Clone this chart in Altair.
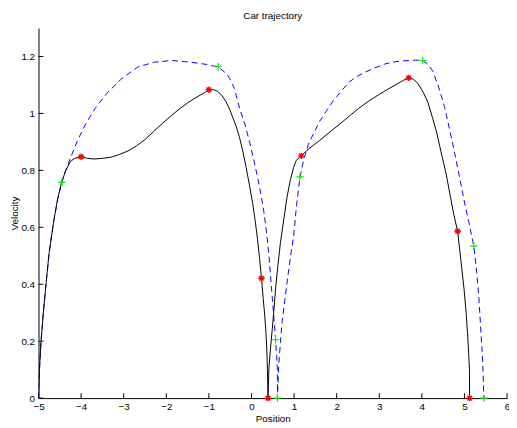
import altair as alt
import pandas as pd

# ---- data ----
black_x = [-5.0, -4.98, -4.94, -4.885, -4.82, -4.75, -4.65, -4.55, -4.46, -4.36, -4.245, -4.15, -4.0,
           -3.85, -3.7, -3.5, -3.3, -3.1, -2.9, -2.7, -2.5, -2.3, -2.1, -1.9, -1.7, -1.5, -1.3, -1.1,
           -1.0, -0.9, -0.8, -0.7, -0.6, -0.5, -0.435, -0.36, -0.28, -0.2, -0.127, -0.05, 0.028, 0.09,
           0.143, 0.19, 0.235, 0.275, 0.31, 0.34, 0.358, 0.375, 0.383, 0.388,
           0.41, 0.45, 0.49, 0.53, 0.566, 0.62, 0.68, 0.76, 0.836, 0.91, 0.99, 1.05, 1.17, 1.3, 1.45,
           1.6, 1.8, 2.06, 2.3, 2.52, 2.75, 2.98, 3.2, 3.37, 3.55, 3.69, 3.8, 3.91, 4.03, 4.14, 4.25,
           4.34, 4.45, 4.57, 4.68, 4.75, 4.84, 4.92, 4.99, 5.04, 5.08, 5.105, 5.12, 5.12]
black_y = [0.0, 0.096, 0.2, 0.303, 0.407, 0.511, 0.615, 0.70, 0.757, 0.80, 0.832, 0.842, 0.848,
           0.842, 0.840, 0.842, 0.846, 0.856, 0.868, 0.886, 0.908, 0.936, 0.964, 0.99, 1.015, 1.037,
           1.056, 1.073, 1.083, 1.084, 1.078, 1.064, 1.042, 1.01, 0.984, 0.955, 0.915, 0.865, 0.811,
           0.75, 0.684, 0.62, 0.557, 0.49, 0.421, 0.35, 0.292, 0.23, 0.176, 0.1, 0.04, 0.0,
           0.107, 0.18, 0.246, 0.316, 0.384, 0.466, 0.546, 0.63, 0.707, 0.765, 0.811, 0.835, 0.851,
           0.87, 0.888, 0.905, 0.93, 0.961, 0.991, 1.018, 1.043, 1.065, 1.085, 1.099, 1.115, 1.125,
           1.12, 1.105, 1.075, 1.04, 0.985, 0.938, 0.865, 0.788, 0.70, 0.645, 0.586, 0.48, 0.384,
           0.30, 0.211, 0.14, 0.096, 0.0]

blue_x = [-5.0, -4.98, -4.94, -4.885, -4.82, -4.75, -4.65, -4.55, -4.45, -4.35, -4.245, -4.09, -3.9,
          -3.67, -3.4, -3.05, -2.67, -2.28, -1.86, -1.44, -1.05, -0.78, -0.59, -0.51, -0.4, -0.28,
          -0.15, -0.05, 0.05, 0.143, 0.23, 0.296, 0.36, 0.41, 0.45, 0.49, 0.53, 0.566, 0.59, 0.605,
          0.61, 0.61,
          0.625, 0.64, 0.68, 0.72, 0.78, 0.836, 0.91, 0.99, 1.06, 1.14, 1.23, 1.335, 1.46, 1.6, 1.75,
          1.9, 2.1, 2.29, 2.48, 2.67, 2.9, 3.14, 3.4, 3.68, 3.85, 4.02, 4.15, 4.26, 4.4, 4.53, 4.65,
          4.76, 4.88, 4.99, 5.1, 5.22, 5.29, 5.34, 5.38, 5.42, 5.44, 5.455]
blue_y = [0.0, 0.096, 0.2, 0.303, 0.407, 0.511, 0.615, 0.70, 0.76, 0.805, 0.845, 0.903, 0.961,
          1.018, 1.07, 1.122, 1.163, 1.18, 1.186, 1.18, 1.172, 1.163, 1.14, 1.122, 1.088, 1.018,
          0.96, 0.903, 0.84, 0.776, 0.71, 0.65, 0.575, 0.5, 0.425, 0.35, 0.275, 0.205, 0.15, 0.107,
          0.05, 0.0,
          0.06, 0.119, 0.195, 0.269, 0.34, 0.407, 0.49, 0.569, 0.68, 0.777, 0.84, 0.891, 0.93, 0.972,
          1.007, 1.04, 1.077, 1.11, 1.13, 1.145, 1.16, 1.174, 1.182, 1.186, 1.187, 1.186, 1.172,
          1.148, 1.09, 1.025, 0.945, 0.868, 0.78, 0.696, 0.62, 0.534, 0.44, 0.35, 0.25, 0.153,
          0.08, 0.0]

red_x = [-4.0, -1.0, 0.235, 0.388, 1.17, 3.69, 4.84, 5.12]
red_y = [0.848, 1.083, 0.421, 0.0, 0.851, 1.125, 0.586, 0.0]

green_x = [-4.45, -0.78, 0.566, 0.61, 1.14, 4.02, 5.22, 5.455]
green_y = [0.758, 1.164, 0.205, 0.0, 0.777, 1.186, 0.534, 0.0]

x_ticks = [-5, -4, -3, -2, -1, 0, 1, 2, 3, 4, 5, 6]
y_ticks = [0, 0.2, 0.4, 0.6, 0.8, 1.0, 1.2]

# ---- tables ----
black = pd.DataFrame({"x": black_x, "y": black_y, "i": list(range(len(black_x)))})
blue = pd.DataFrame({"x": blue_x, "y": blue_y, "i": list(range(len(blue_x)))})
red = pd.DataFrame({"x": red_x, "y": red_y})
green = pd.DataFrame({"x": green_x, "y": green_y})
xt = pd.DataFrame({"x": x_ticks})
yt = pd.DataFrame({"y": y_ticks})

FONT = "Liberation Sans"
W, H = 476, 376

xs = alt.Scale(domain=[-5, 6], nice=False, zero=False)
ys = alt.Scale(domain=[0, 1.3], nice=False, zero=False)
xaxis = alt.Axis(values=x_ticks, title="Position", ticks=False, grid=False, labelPadding=4,
                 titlePadding=2, labelFlush=False, labelOverlap=False, format="d")
yaxis = alt.Axis(values=y_ticks, title="Velocity", ticks=False, grid=False, labelPadding=4,
                 titlePadding=1, labelFlush=False, labelOverlap=False, format=".1~f")
X = alt.X("x:Q", scale=xs, axis=xaxis)
Y = alt.Y("y:Q", scale=ys, axis=yaxis)

star = "M-1,0L1,0M0,-1L0,1M-0.72,-0.72L0.72,0.72M-0.72,0.72L0.72,-0.72"
plus = "M-1,0L1,0M0,-1L0,1"

blue_line = alt.Chart(blue).mark_line(color="#0000ff", strokeWidth=1, strokeDash=[6, 4], clip=True).encode(
    x=X, y=Y, order="i:Q")
black_line = alt.Chart(black).mark_line(color="#000000", strokeWidth=1, clip=True).encode(
    x=X, y=Y, order="i:Q")
red_pts = alt.Chart(red).mark_point(shape=star, size=42, color="#ff0000", filled=False,
                                    strokeWidth=1.4, opacity=1).encode(x=X, y=Y)
green_pts = alt.Chart(green).mark_point(shape=plus, size=56, color="#00ee00", filled=False,
                                        strokeWidth=1.2, opacity=1).encode(x=X, y=Y)
xtick = alt.Chart(xt).mark_rule(color="black", strokeWidth=1).encode(
    x=X, y=alt.value(H), y2=alt.value(H - 5))
ytick = alt.Chart(yt).mark_rule(color="black", strokeWidth=1).encode(
    y=Y, x=alt.value(0), x2=alt.value(5))

chart = alt.layer(xtick, ytick, blue_line, black_line, green_pts, red_pts).properties(
    width=W, height=H,
    title=alt.TitleParams("Car trajectory", font=FONT, fontSize=10, fontWeight="normal",
                          color="black", anchor="middle", offset=7),
    autosize=alt.AutoSizeParams(type="none"),
    padding={"left": 31, "top": 17, "right": 2, "bottom": 25},
).configure_view(stroke=None).configure_axis(
    domainColor="black", domainWidth=1, labelColor="black", titleColor="black",
    labelFont=FONT, titleFont=FONT, labelFontSize=10, titleFontSize=10, titleFontWeight="normal",
)

chart.save("out.html", embed_options={"renderer": "svg", "actions": False})
